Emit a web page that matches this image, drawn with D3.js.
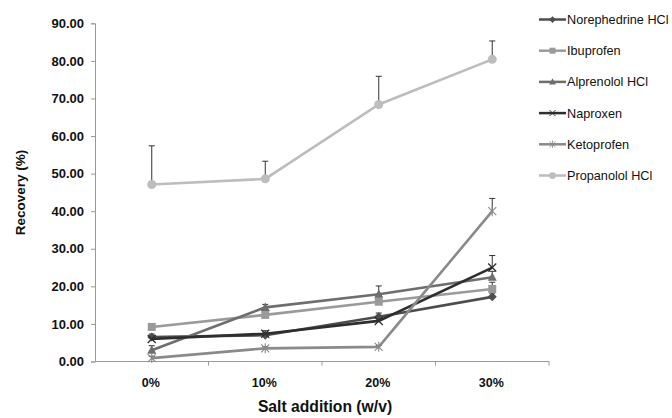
<!DOCTYPE html>
<html>
<head>
<meta charset="utf-8">
<script src="https://cdn.jsdelivr.net/npm/d3@7"></script>
<style>
  body { margin: 0; background: #fff; }
  svg { font-family: "Liberation Sans", Arial, sans-serif; }
</style>
</head>
<body>
<div id="chart"></div>
<script>
const categories = ['0%', '10%', '20%', '30%'];
const yTicks = [0, 10, 20, 30, 40, 50, 60, 70, 80, 90];

const norephedrine = [6.5, 7.0, 11.9, 17.2];
const norephedrineErr = [0.8, 0.6, 1.0, 1.0];
const ibuprofen = [9.2, 12.4, 15.9, 19.3];
const ibuprofenErr = [0.6, 0.8, 1.6, 1.8];
const alprenolol = [3.0, 14.4, 17.9, 22.4];
const alprenololErr = [1.2, 0.8, 2.2, 1.6];
const naproxen = [6.0, 7.4, 10.8, 25.0];
const naproxenErr = [0.8, 0.8, 1.0, 3.2];
const ketoprofen = [0.9, 3.5, 3.9, 40.0];
const ketoprofenErr = [0.5, 0.4, 0.4, 3.4];
const propanolol = [47.1, 48.6, 68.4, 80.4];
const propanololErr = [10.3, 4.7, 7.5, 4.9];

const seriesNames = ['Norephedrine HCl', 'Ibuprofen', 'Alprenolol HCl', 'Naproxen', 'Ketoprofen', 'Propanolol HCl'];

const MARGIN = { TOP: 23.3, RIGHT: 123, BOTTOM: 56.5, LEFT: 95 };
const WIDTH = 672 - MARGIN.LEFT - MARGIN.RIGHT;
const HEIGHT = 418 - MARGIN.TOP - MARGIN.BOTTOM;

const series = [
  { name: seriesNames[0], values: norephedrine, err: norephedrineErr, color: '#4d4d4d', marker: 'diamond' },
  { name: seriesNames[1], values: ibuprofen, err: ibuprofenErr, color: '#9a9a9a', marker: 'square' },
  { name: seriesNames[2], values: alprenolol, err: alprenololErr, color: '#6e6e6e', marker: 'triangle' },
  { name: seriesNames[3], values: naproxen, err: naproxenErr, color: '#2e2e2e', marker: 'x' },
  { name: seriesNames[4], values: ketoprofen, err: ketoprofenErr, color: '#8a8a8a', marker: 'star' },
  { name: seriesNames[5], values: propanolol, err: propanololErr, color: '#bdbdbd', marker: 'circle' },
];

const svg = d3.select('#chart').append('svg')
  .attr('width', 672)
  .attr('height', 418);

const g = svg.append('g')
  .attr('transform', `translate(${MARGIN.LEFT}, ${MARGIN.TOP})`);

const x = d3.scaleBand().domain(categories).range([0, WIDTH]);
const y = d3.scaleLinear().domain([0, 90]).range([HEIGHT, 0]);
const cx = c => x(c) + x.bandwidth() / 2;

// y axis
const yAxis = g.append('g')
  .attr('font-size', 13)
  .call(d3.axisLeft(y).tickValues(yTicks).tickSize(4).tickFormat(d3.format('.2f')));
yAxis.attr('font-size', 13).attr('font-family', '"Liberation Sans", Arial, sans-serif');
yAxis.select('.domain').attr('stroke', '#999');
yAxis.selectAll('.tick line').attr('stroke', '#999');
yAxis.selectAll('.tick text')
  .attr('x', -11)
  .style('font-size', '13px')
  .attr('font-weight', 'bold')
  .attr('fill', '#111');

// x axis
const xAxisG = g.append('g').attr('transform', `translate(0, ${HEIGHT})`);
xAxisG.append('line').attr('x1', 0).attr('x2', WIDTH).attr('stroke', '#999');
xAxisG.selectAll('.xt')
  .data(categories.map(c => x(c) + x.bandwidth()))
  .join('line')
  .attr('x1', d => d).attr('x2', d => d)
  .attr('y1', 0).attr('y2', 4)
  .attr('stroke', '#999');
xAxisG.selectAll('.xl')
  .data(categories)
  .join('text')
  .attr('x', d => cx(d) - 1)
  .attr('y', 25.5)
  .attr('text-anchor', 'middle')
  .attr('font-size', 12.5)
  .attr('font-weight', 'bold')
  .attr('fill', '#111')
  .text(d => d);

// axis titles
g.append('text')
  .attr('x', WIDTH / 2 + 3)
  .attr('y', HEIGHT + 51)
  .attr('text-anchor', 'middle')
  .attr('font-size', 15.7)
  .attr('font-weight', 'bold')
  .attr('fill', '#111')
  .text('Salt addition (w/v)');

g.append('text')
  .attr('transform', 'rotate(-90)')
  .attr('x', -(192.5 - MARGIN.TOP))
  .attr('y', -70)
  .attr('text-anchor', 'middle')
  .attr('font-size', 13.5)
  .attr('font-weight', 'bold')
  .attr('fill', '#111')
  .text('Recovery (%)');

function drawMarker(sel, type, color) {
  if (type === 'diamond') {
    sel.append('path').attr('d', 'M0,-4.5L4.5,0L0,4.5L-4.5,0Z').attr('fill', color);
  } else if (type === 'square') {
    sel.append('rect').attr('x', -4).attr('y', -4).attr('width', 8).attr('height', 8).attr('fill', color);
  } else if (type === 'triangle') {
    sel.append('path').attr('d', 'M0,-5L4.5,3.5L-4.5,3.5Z').attr('fill', color);
  } else if (type === 'x') {
    sel.append('path').attr('d', 'M-4,-4L4,4M-4,4L4,-4').attr('stroke', color).attr('stroke-width', 1.3);
  } else if (type === 'star') {
    sel.append('path').attr('d', 'M-4,-4L4,4M-4,4L4,-4M0,-5L0,5').attr('stroke', color).attr('stroke-width', 1.1);
  } else if (type === 'circle') {
    sel.append('circle').attr('r', 4.5).attr('fill', color);
  }
}

const line = d3.line()
  .x((d, i) => cx(categories[i]))
  .y(d => y(d));

// error bars (upper only, with cap)
series.forEach(s => {
  const eb = g.append('g');
  s.values.forEach((v, i) => {
    const xc = cx(categories[i]);
    eb.append('line')
      .attr('x1', xc).attr('x2', xc)
      .attr('y1', y(v)).attr('y2', y(v + s.err[i]))
      .attr('stroke', '#333').attr('stroke-width', 1);
    eb.append('line')
      .attr('x1', xc - 3).attr('x2', xc + 3)
      .attr('y1', y(v + s.err[i])).attr('y2', y(v + s.err[i]))
      .attr('stroke', '#333').attr('stroke-width', 1);
  });
});

// lines and markers
series.forEach(s => {
  g.append('path')
    .datum(s.values)
    .attr('d', line)
    .attr('fill', 'none')
    .attr('stroke', s.color)
    .attr('stroke-width', 2.6);
  s.values.forEach((v, i) => {
    const m = g.append('g').attr('transform', `translate(${cx(categories[i])}, ${y(v)})`);
    drawMarker(m, s.marker, s.color);
  });
});

// legend
const legend = svg.append('g').attr('transform', 'translate(539, 19.5)');
series.forEach((s, i) => {
  const row = legend.append('g').attr('transform', `translate(0, ${i * 31.2})`);
  row.append('line').attr('x1', 0).attr('x2', 27).attr('stroke', s.color).attr('stroke-width', 2.5);
  const m = row.append('g');
  drawMarker(m, s.marker, s.color);
  m.attr('transform', 'translate(13.5, 0) scale(0.75)');
  row.append('text')
    .attr('x', 28)
    .attr('y', 4.5)
    .attr('font-size', 12.7)
    .attr('fill', '#111')
    .text(s.name);
});
</script>
</body>
</html>
